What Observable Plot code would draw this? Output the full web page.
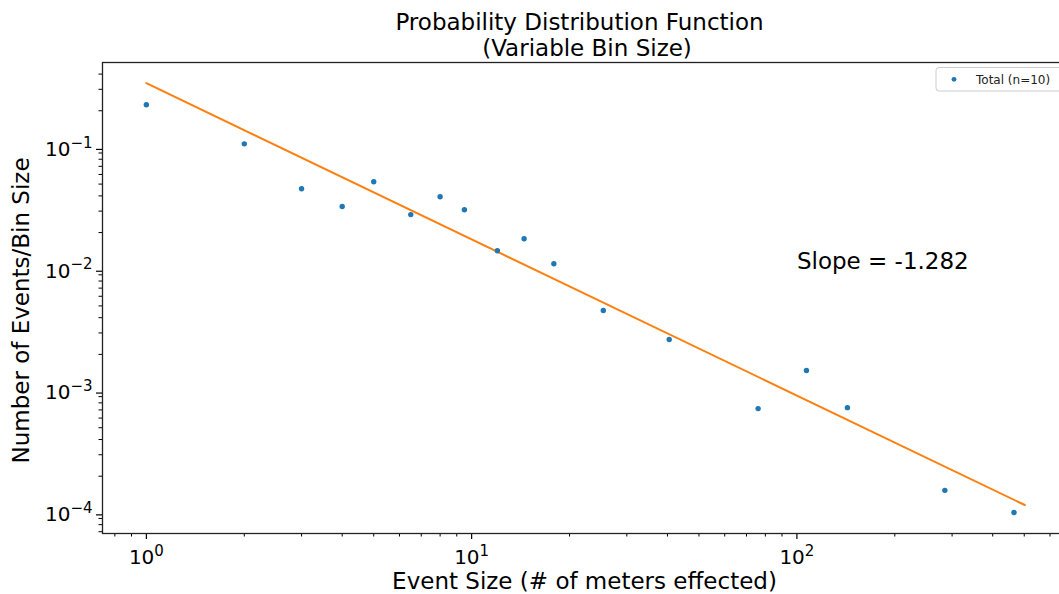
<!DOCTYPE html>
<html><head><meta charset="utf-8">
<script src="https://cdn.jsdelivr.net/npm/d3@7"></script>
<script src="https://cdn.jsdelivr.net/npm/@observablehq/plot@0.6"></script>
<style>
html,body{margin:0;padding:0;background:#fff;overflow:hidden;width:1059px;height:594px;}
body{font-family:"DejaVu Sans",sans-serif;color:#000;}
.tline{position:absolute;left:0;text-align:center;font-size:23px;line-height:23px;white-space:nowrap;z-index:2;}
#t1{top:11px;width:1159px;}
#t2{top:37px;width:1174px;}
#chart{position:absolute;left:0;top:56px;z-index:1;}
</style></head>
<body>
<div id="chart"></div>
<div id="t1" class="tline">Probability Distribution Function</div>
<div id="t2" class="tline">(Variable Bin Size)</div>
<script>
// Data
const eventSize = [1, 2, 3, 4, 5, 6.5, 8, 9.5, 12, 14.5, 17.9, 25.4, 40.5, 76, 107, 143, 285, 465];
const eventsPerBin = [0.224, 0.107, 0.0458, 0.0327, 0.0523, 0.0281, 0.0394, 0.0308, 0.0142, 0.0178, 0.0111, 0.00458, 0.00265, 0.000718, 0.001476, 0.000731, 0.000153, 0.0001007];
const fitX = [1, 502];
const fitY = [0.337, 0.000116];
const slopeLabel = "Slope = -1.282";
const legendLabel = "Total (n=10)";
const xLabel = "Event Size (# of meters effected)";
const yLabel = "Number of Events/Bin Size";
const xMajor = [1, 10, 100];
const yMajor = [1e-4, 1e-3, 1e-2, 1e-1];
const xDomain = [0.733, 684];
const yDomain = [6.77e-5, 0.498];

const points = eventSize.map((x, i) => ({x, y: eventsPerBin[i]}));
const fit = fitX.map((x, i) => ({x, y: fitY[i]}));
const minorIn = ([lo, hi]) => d3.range(-6, 4).flatMap(p => [2,3,4,5,6,7,8,9].map(m => +(m * 10 ** p).toPrecision(3))).filter(v => v >= lo && v <= hi);
const xMinor = minorIn(xDomain);
const yMinor = minorIn(yDomain);
const expFmt = d => String(Math.round(Math.log10(d)));

const svg = Plot.plot({
  width: 1080, height: 538,
  marginLeft: 102, marginRight: 12, marginTop: 6, marginBottom: 61,
  style: {fontFamily: "DejaVu Sans", fontSize: "20px", overflow: "visible", maxWidth: "none", background: "transparent", color: "#000"},
  x: {type: "log", domain: xDomain, axis: null},
  y: {type: "log", domain: yDomain, axis: null},
  marks: [
    Plot.axisX({ticks: xMinor, anchor: "bottom", tickSize: 3.5, tickFormat: () => "", label: null, strokeWidth: 1}),
    Plot.axisY({ticks: yMinor, anchor: "left", tickSize: 3.5, tickFormat: () => "", label: null, strokeWidth: 1}),
    Plot.axisX({ticks: xMajor, anchor: "bottom", tickSize: 6, tickPadding: 10.5, tickFormat: expFmt, label: null, fontSize: 20, strokeWidth: 1.2}),
    Plot.axisY({ticks: yMajor, anchor: "left", tickSize: 6, tickPadding: 4, tickFormat: expFmt, label: null, fontSize: 20, strokeWidth: 1.2, dy: 2}),
    Plot.frame({stroke: "#222", strokeWidth: 1.3}),
    Plot.line(fit, {x: "x", y: "y", stroke: "#ff7f0e", strokeWidth: 2}),
    Plot.dot(points, {x: "x", y: "y", r: 2.7, fill: "#1f77b4"}),
    Plot.text([slopeLabel], {x: () => 100, y: () => 0.0116, text: d => d, textAnchor: "start", lineAnchor: "middle", fontSize: 23, fill: "#000"}),
    Plot.text([yLabel], {frameAnchor: "left", dx: -81, dy: 12.5, rotate: -90, textAnchor: "middle", lineAnchor: "middle", text: d => d, fontSize: 23, fill: "#000"}),
    Plot.text([xLabel], {frameAnchor: "bottom", dx: -1, dy: 48.3, textAnchor: "middle", lineAnchor: "middle", text: d => d, fontSize: 23, fill: "#000"})
  ]
});

// Render exponent tick labels as 10 with superscript
d3.select(svg).selectAll('g[aria-label$="tick label"] text').each(function() {
  const e = this.textContent.trim();
  if (!e) return;
  const sel = d3.select(this);
  sel.text("10");
  sel.append("tspan").attr("dy", "-0.55em").attr("font-size", "15px").text(e.replace("-", "\u2212"));
});

// Legend box
const lg = d3.select(svg).append("g").attr("text-anchor", "start");
lg.append("rect").attr("x", 936).attr("y", 11.5).attr("width", 140).attr("height", 23.5).attr("rx", 3)
  .attr("fill", "white").attr("stroke", "#ccc").attr("stroke-width", 1);
lg.append("circle").attr("cx", 954).attr("cy", 23.3).attr("r", 2.4).attr("fill", "#1f77b4");
lg.append("text").attr("x", 976).attr("y", 23.3).attr("dy", "0.35em").attr("font-size", 12).attr("text-anchor", "start").attr("fill", "#222").text(legendLabel);

document.getElementById("chart").appendChild(svg);
</script>
</body></html>
